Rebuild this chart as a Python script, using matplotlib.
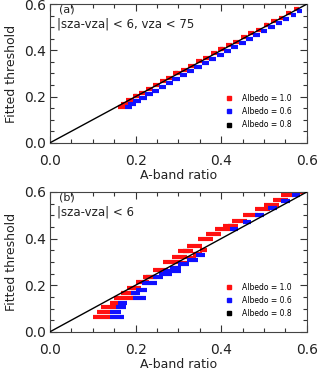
import numpy as np
import matplotlib
matplotlib.use('Agg')
import matplotlib.pyplot as plt
from matplotlib.lines import Line2D
from matplotlib.ticker import MultipleLocator

# panel (a): |sza-vza| < 6, vza < 75 -- horizontal streaks of points per threshold level
ra_y  = [0.155,0.170,0.186,0.201,0.216,0.233,0.250,0.266,0.282,0.300,0.317,0.334,0.352,
         0.369,0.387,0.404,0.421,0.438,0.456,0.473,0.490,0.508,0.525,0.542,0.560,0.577]
ra_x0 = [0.158,0.165,0.178,0.193,0.208,0.224,0.240,0.256,0.271,0.288,0.305,0.322,0.340,
         0.357,0.376,0.393,0.410,0.428,0.446,0.463,0.481,0.499,0.516,0.534,0.552,0.569]
ra_x1 = [0.176,0.185,0.196,0.210,0.225,0.240,0.256,0.272,0.288,0.305,0.322,0.339,0.356,
         0.373,0.391,0.408,0.425,0.443,0.460,0.477,0.495,0.512,0.530,0.547,0.564,0.582]
ba_y  = [0.155,0.166,0.180,0.195,0.210,0.226,0.243,0.259,0.276,0.293,0.310,0.327,0.345,
         0.362,0.380,0.397,0.414,0.431,0.449,0.466,0.483,0.501,0.518,0.535,0.553,0.570]
ba_x0 = [0.176,0.183,0.194,0.208,0.223,0.238,0.254,0.270,0.286,0.303,0.320,0.337,0.354,
         0.371,0.389,0.406,0.423,0.441,0.458,0.475,0.493,0.510,0.528,0.545,0.562,0.578]
ba_x1 = [0.192,0.200,0.212,0.226,0.240,0.255,0.271,0.287,0.303,0.320,0.337,0.354,0.371,
         0.388,0.406,0.423,0.440,0.457,0.474,0.491,0.508,0.525,0.542,0.558,0.574,0.588]
ka_y  = [0.201,0.300,0.404,0.508]
ka_x0 = [0.196,0.292,0.396,0.502]
ka_x1 = [0.204,0.300,0.404,0.508]

# panel (b): |sza-vza| < 6 (last rows of each list: the lower branch near the line)
rb_y  = [0.062,0.083,0.105,0.125,0.147,0.166,0.190,0.215,0.237,0.267,0.300,0.322,0.345,
         0.368,0.400,0.420,0.440,0.454,0.476,0.500,0.525,0.545,0.565,0.585,0.600,
         0.254,0.275,0.295,0.315,0.335,0.350]
rb_x0 = [0.100,0.110,0.120,0.140,0.150,0.165,0.180,0.200,0.218,0.240,0.265,0.285,0.300,
         0.320,0.345,0.365,0.385,0.405,0.425,0.450,0.480,0.500,0.520,0.540,0.555,
         0.257,0.280,0.300,0.320,0.335,0.350]
rb_x1 = [0.140,0.140,0.155,0.160,0.195,0.200,0.212,0.232,0.250,0.275,0.305,0.320,0.335,
         0.355,0.380,0.400,0.420,0.440,0.460,0.485,0.515,0.535,0.555,0.570,0.590,
         0.280,0.300,0.320,0.340,0.355,0.367]
bb_y  = [0.062,0.083,0.105,0.125,0.147,0.166,0.180,0.210,0.235,0.440,0.470,0.500,0.530,
         0.560,0.585,0.250,0.262,0.275,0.290,0.310,0.330]
bb_x0 = [0.140,0.140,0.155,0.160,0.195,0.190,0.200,0.215,0.240,0.420,0.450,0.480,0.510,
         0.540,0.565,0.255,0.265,0.280,0.300,0.320,0.340]
bb_x1 = [0.173,0.165,0.178,0.180,0.225,0.210,0.227,0.250,0.265,0.440,0.470,0.500,0.530,
         0.560,0.585,0.285,0.305,0.305,0.325,0.345,0.362]
kb_y  = [0.237,0.345,0.454]
kb_x0 = [0.225,0.310,0.415]
kb_x1 = [0.240,0.325,0.430]

labels = ['Albedo = 1.0', 'Albedo = 0.6', 'Albedo = 0.8']
colors = ['#ff1010', '#1010ff', 'black']

fig = plt.figure(figsize=(3.2, 3.72), dpi=100)
ax_a = fig.add_axes([0.156, 0.616, 0.803, 0.373])
ax_b = fig.add_axes([0.156, 0.108, 0.803, 0.376])


def draw_panel(ax, streaks, tag, cond, lw):
	# albedo 0.8 points sit under the others
	for (y, x0, x1), c, z in zip(streaks, colors, [2, 2, 1]):
		ax.hlines(y, x0, x1, colors=c, lw=lw, zorder=z)
	ax.plot([0, 0.6], [0, 0.6], color='black', lw=1.0, zorder=3)
	ax.set_xlim(0, 0.6)
	ax.set_ylim(0, 0.6)
	ax.xaxis.set_major_locator(MultipleLocator(0.2))
	ax.yaxis.set_major_locator(MultipleLocator(0.2))
	ax.xaxis.set_minor_locator(MultipleLocator(0.05))
	ax.yaxis.set_minor_locator(MultipleLocator(0.05))
	ax.tick_params(which='both', direction='in', top=True, right=True, width=0.8, color='#333')
	ax.tick_params(which='major', length=5)
	ax.tick_params(which='minor', length=3)
	ax.tick_params(axis='x', pad=8, labelsize=10, labelcolor='#222')
	ax.tick_params(axis='y', pad=3, labelsize=10, labelcolor='#222')
	ax.xaxis.set_major_formatter(plt.FormatStrFormatter('%.1f'))
	ax.yaxis.set_major_formatter(plt.FormatStrFormatter('%.1f'))
	for s in ax.spines.values():
		s.set_linewidth(0.8)
		s.set_color('#444')
	ax.set_xlabel('A-band ratio', fontsize=9, color='#222', labelpad=1)
	ax.set_ylabel('Fitted threshold', fontsize=9, color='#222', labelpad=4)
	ax.text(0.035, 0.96, tag, transform=ax.transAxes, fontsize=8, va='center', ha='left', color='#222')
	ax.text(0.027, 0.855, cond, transform=ax.transAxes, fontsize=8.5, va='center', ha='left', color='#222')
	handles = [Line2D([], [], ls='none', marker='s', ms=2.2, color=c) for c in colors]
	ax.legend(handles, labels, loc='lower right', bbox_to_anchor=(0.96, 0.06), frameon=False,
	          fontsize=5.5, handlelength=1.0, handletextpad=1.2, labelspacing=0.55, borderpad=0.2)


draw_panel(ax_a, [(ra_y, ra_x0, ra_x1), (ba_y, ba_x0, ba_x1), (ka_y, ka_x0, ka_x1)],
           '(a)', '|sza-vza| < 6, vza < 75', 3.0)
draw_panel(ax_b, [(rb_y, rb_x0, rb_x1), (bb_y, bb_x0, bb_x1), (kb_y, kb_x0, kb_x1)],
           '(b)', '|sza-vza| < 6', 3.0)

fig.savefig('out.png', dpi=100)
